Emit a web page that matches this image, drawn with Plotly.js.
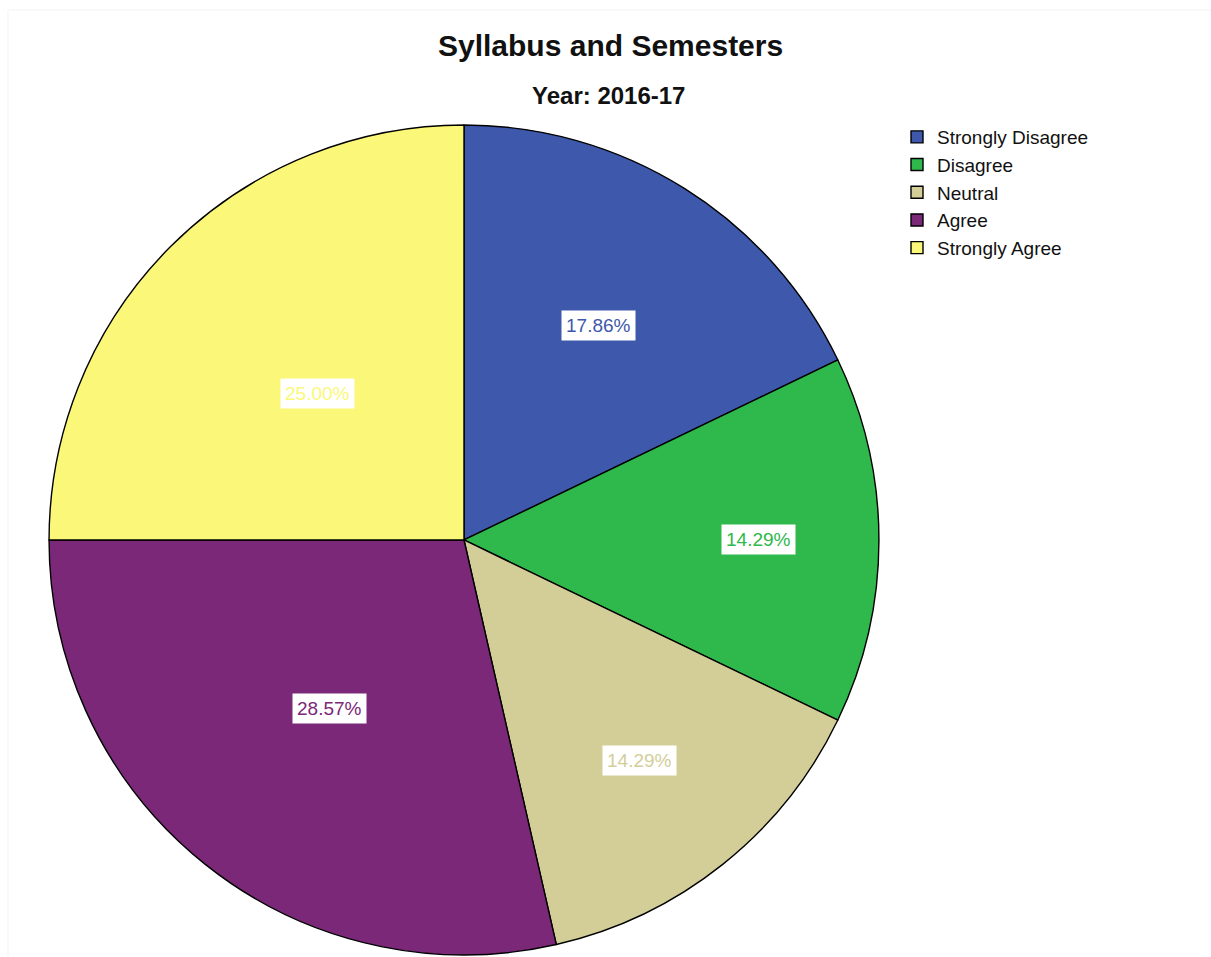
<!DOCTYPE html>
<html>
<head>
<meta charset="utf-8">
<script src="https://cdn.plot.ly/plotly-3.0.1.min.js"></script>
<style>html,body{margin:0;padding:0;background:#fff;}#chart{width:1211px;height:957px;}</style>
</head>
<body>
<div id="chart"></div>
<script>
const categories = ["Strongly Disagree", "Disagree", "Neutral", "Agree", "Strongly Agree"];
const counts = [5, 4, 4, 8, 7];
const colors = ["#3E58AC", "#2FB84B", "#D3CE98", "#7B2878", "#FBF778"];
// radial placement (fraction of radius) of each percentage label, as in the original
const labelRadius = [0.61, 0.71, 0.68, 0.52, 0.50];

const W = 1211, H = 957;
const FONT = 'Liberation Sans, Arial, sans-serif';
const dom = {x: [0.0405, 0.7258], y: [0.0021, 0.8694]};
const cx = (dom.x[0] + dom.x[1]) / 2 * W;
const cyB = (dom.y[0] + dom.y[1]) / 2 * H;
const R = Math.min((dom.x[1] - dom.x[0]) * W, (dom.y[1] - dom.y[0]) * H) / 2;
const total = counts.reduce((a, b) => a + b, 0);

const annotations = [];
let cum = 0;
counts.forEach((v, i) => {
  const mid = (cum + v / 2) / total * 2 * Math.PI;
  cum += v;
  const rr = R * labelRadius[i];
  const px = cx + rr * Math.sin(mid);
  const py = cyB + rr * Math.cos(mid);
  annotations.push({
    x: px / W, y: py / H, xref: 'paper', yref: 'paper',
    xanchor: 'center', yanchor: 'middle',
    text: (v / total * 100).toFixed(2) + '%',
    showarrow: false, bgcolor: '#ffffff', borderpad: 4,
    font: {family: FONT, size: 19, color: colors[i]}
  });
});

annotations.push({
  x: 610 / W, y: 1 - 45 / H, xref: 'paper', yref: 'paper', showarrow: false,
  xanchor: 'center', yanchor: 'middle',
  text: '<b>Syllabus and Semesters</b>',
  font: {family: FONT, size: 30, color: '#111'}
});
annotations.push({
  x: 608 / W, y: 1 - 95 / H, xref: 'paper', yref: 'paper', showarrow: false,
  xanchor: 'center', yanchor: 'middle',
  text: '<b>Year: 2016-17</b>',
  font: {family: FONT, size: 24, color: '#111'}
});

const trace = {
  type: 'pie',
  labels: categories,
  values: counts,
  sort: false,
  direction: 'clockwise',
  rotation: 0,
  marker: {colors: colors, line: {color: '#000', width: 1.4}},
  textinfo: 'none',
  hoverinfo: 'label+percent',
  domain: dom
};

const layout = {
  width: W, height: H,
  margin: {l: 0, r: 0, t: 0, b: 0},
  paper_bgcolor: '#fff',
  showlegend: true,
  legend: {
    x: 897 / W, y: 1 - 118 / H, xanchor: 'left', yanchor: 'top',
    font: {family: FONT, size: 19, color: '#111'},
    tracegroupgap: 0, itemwidth: 30
  },
  shapes: [
    {type: 'line', xref: 'paper', yref: 'paper', x0: 8 / W, x1: 1, y0: 1 - 10 / H, y1: 1 - 10 / H, line: {color: '#f3f3f3', width: 1}},
    {type: 'line', xref: 'paper', yref: 'paper', x0: 8 / W, x1: 8 / W, y0: 0, y1: 1 - 10 / H, line: {color: '#f3f3f3', width: 1}}
  ],
  annotations: annotations
};

Plotly.newPlot('chart', [trace], layout, {displayModeBar: false});
</script>
</body>
</html>
